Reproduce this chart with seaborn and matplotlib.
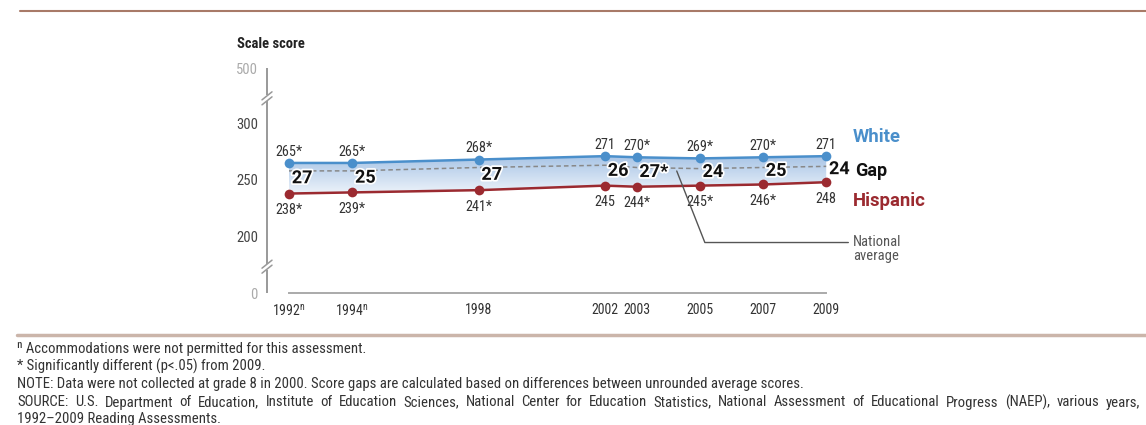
import numpy as np
import pandas as pd
import seaborn as sns
import matplotlib.pyplot as plt
import matplotlib.patheffects as pe
from matplotlib.lines import Line2D
from matplotlib import font_manager as fm

# data
years = [1992, 1994, 1998, 2002, 2003, 2005, 2007, 2009]
white = [265, 265, 268, 271, 270, 269, 270, 271]
hispanic = [238, 239, 241, 245, 244, 245, 246, 248]
national = [258, 258, 261, 263, 261, 260, 261, 262]
white_lbl = ['265*', '265*', '268*', '271', '270*', '269*', '270*', '271']
hisp_lbl = ['238*', '239*', '241*', '245', '244*', '245*', '246*', '248']
gap_lbl = ['27', '25', '27', '26', '27*', '24', '25', '24']
year_lbl = ['1992$^\\mathregular{n}$', '1994$^\\mathregular{n}$', '1998', '2002',
            '2003', '2005', '2007', '2009']
# pseudo y positions for the broken axis (0 and 500 squeezed in)
ytick_pos = [150, 200, 250, 300, 348.5]
ytick_lbl = ['0', '200', '250', '300', '500']
footnotes = [
    'ⁿ Accommodations were not permitted for this assessment.',
    '* Significantly different (p<.05) from 2009.',
    'NOTE: Data were not collected at grade 8 in 2000. Score gaps are calculated based on differences between unrounded average scores.',
    'SOURCE: U.S. Department of Education, Institute of Education Sciences, National Center for Education Statistics, National Assessment of Educational Progress (NAEP), various years,',
    '1992–2009 Reading Assessments.',
]

df = pd.DataFrame({'year': years * 2, 'score': white + hispanic,
                   'group': ['White'] * 8 + ['Hispanic'] * 8})

sns.set_style('white')

# look for a narrow face, else Roboto
installed = {f.name for f in fm.fontManager.ttflist}
narrow = [n for n in ['Liberation Sans Narrow', 'Roboto Condensed', 'Open Sans Condensed',
                      'DejaVu Sans Condensed', 'Noto Sans Condensed', 'Arial Narrow']
          if n in installed]
cond = [f.name for f in fm.fontManager.ttflist
        if str(f.stretch) in ('condensed', 'semi-condensed', 'extra-condensed', '75', '87.5')]
if narrow:
    FONT, STRETCH = [narrow[0], 'DejaVu Sans'], 'normal'
elif cond:
    FONT, STRETCH = [cond[0], 'DejaVu Sans'], 'condensed'
else:
    FONT, STRETCH = ['Roboto', 'DejaVu Sans'], 'normal'
plt.rcParams['font.family'] = FONT
plt.rcParams['font.stretch'] = STRETCH
BOLD = dict(family=['Roboto', 'DejaVu Sans'], fontstretch='normal', fontweight='bold')

blue = '#4a8fcb'
red = '#9b2a30'

fig = plt.figure(figsize=(11.46, 4.25), dpi=100)
W, H = 1146, 425
ax = fig.add_axes([267 / W, (H - 293.3) / H, 733 / W, 225 / H])
xl = 1992 - 22 / 31.6
ax.set_xlim(xl, xl + 733 / 31.6)
ax.set_ylim(150, 348.5)

# gradient fill between the two groups
poly = ax.fill_between(years, hispanic, white, color='none', lw=0)
grad = np.linspace(0, 1, 100).reshape(-1, 1)
img = ax.imshow(grad, cmap=sns.blend_palette(['#edf3fa', '#a9c5e6'], as_cmap=True),
                extent=[1992, 2009, 238, 271], origin='lower', aspect='auto', zorder=1)
img.set_clip_path(poly.get_paths()[0], transform=ax.transData)

sns.lineplot(data=df, x='year', y='score', hue='group', palette=[blue, red],
             marker='o', markersize=7, markeredgewidth=0, lw=1.8, legend=False,
             ax=ax, zorder=3)
ax.plot(years, national, color='#888888', lw=1.1, dashes=(3, 2), zorder=2)

for x, w, h, wl, hl, g in zip(years, white, hispanic, white_lbl, hisp_lbl, gap_lbl):
    ax.annotate(wl, (x, w), xytext=(0, 8), textcoords='offset points', ha='center',
                va='center', fontsize=10.3, color='#333333')
    ax.annotate(hl, (x, h), xytext=(0, -12), textcoords='offset points', ha='center',
                va='center', fontsize=10.3, color='#333333')
    ax.annotate(g, (x, (w + h) / 2), xytext=(2, 0), textcoords='offset points',
                ha='left', va='center', fontsize=13, color='#111111',
                path_effects=[pe.withStroke(linewidth=2.5, foreground='white')], zorder=5,
                **BOLD)

ax.text(2009.85, 287.7, 'White', fontsize=13.3, color=blue, va='center', **BOLD)
ax.text(2009.93, 257.5, 'Gap', fontsize=13, color='#111111', va='center', **BOLD)
ax.text(2009.85, 231.5, 'Hispanic', fontsize=13.3, color=red, va='center', **BOLD)

# national average callout
ax.plot([2004.27, 2005.16, 2009.70], [257.9, 194.8, 194.8], color='#555555', lw=1, zorder=4)
ax.text(2009.85, 201.5, 'National\naverage', fontsize=10.5, color='#555555', va='top',
        linespacing=1.0)

# axes styling
sns.despine(ax=ax, left=True, bottom=False, right=True, top=True)
ax.spines['bottom'].set_bounds(1992, 2009)
ax.spines['bottom'].set_color('#aaaaaa')
ax.spines['bottom'].set_linewidth(1.4)
ax.set_xticks(years, year_lbl)
ax.set_yticks(ytick_pos, ytick_lbl)
ax.tick_params(axis='x', direction='out', length=4, width=1, color='#aaaaaa', pad=3,
               labelsize=10, labelcolor='#333333')
ax.tick_params(axis='y', direction='out', length=4.5, width=1, color='#999999', pad=2,
               labelsize=10.5)
for t, c in zip(ax.get_yticklabels(), ['#aaaaaa', '#444444', '#444444', '#444444', '#aaaaaa']):
    t.set_color(c)
ax.set_xlabel('')
ax.set_ylabel('')

# broken y axis drawn by hand
gx = 1 / 31.6
gy = 1 / 1.134
ax.plot([xl, xl, np.nan, xl, xl, np.nan, xl, xl],
        [150, 173.5 - 3 * gy, np.nan, 173.5 + 3 * gy, 322 - 3 * gy, np.nan, 322 + 3 * gy, 348.5],
        color='#999999', lw=1.4, clip_on=False, solid_capstyle='butt')
for yb in [173.5, 322]:
    for d in [-2.5, 2.5]:
        ax.plot([xl - 5 * gx, xl + 5 * gx], [yb + (d - 4) * gy, yb + (d + 4) * gy],
                color='#999999', lw=1.1, clip_on=False)

fig.text(237 / W, 1 - 44 / H, 'Scale score', fontsize=10.5, fontweight='bold',
         color='#222222', va='center')

# rules
fig.add_artist(Line2D([20 / W, 1], [1 - 10.5 / H] * 2, color='#a87a68', lw=1.5))
fig.add_artist(Line2D([17 / W, 1], [1 - 335 / H] * 2, color='#cbb5aa', lw=2.5))

# footnotes, last full line justified
fig.canvas.draw()
r = fig.canvas.get_renderer()
ys = [348.5, 366, 384, 402.5, 419.5]
for i, (line, yy) in enumerate(zip(footnotes, ys)):
    if i != 3:
        fig.text(17 / W, 1 - yy / H, line, fontsize=10.6, color='#333333', va='center')
        continue
    words = line.split(' ')
    objs = [fig.text(0, 1 - yy / H, w, fontsize=10.6, color='#333333', va='center') for w in words]
    widths = [o.get_window_extent(r).width for o in objs]
    space = (1140 - 17 - sum(widths)) / (len(words) - 1)
    xpos = 17
    for o, wd in zip(objs, widths):
        o.set_x(xpos / W)
        xpos += wd + space

fig.savefig('out.png', dpi=100)
